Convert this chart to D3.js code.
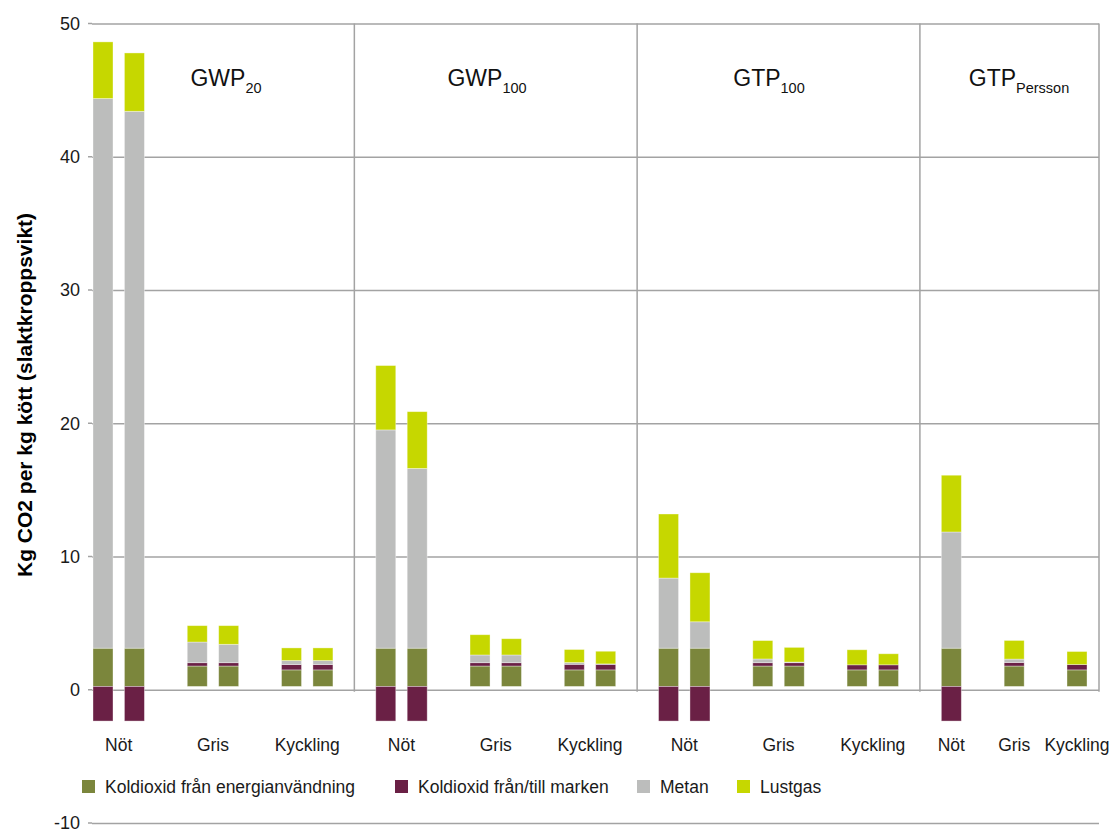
<!DOCTYPE html>
<html>
<head>
<meta charset="utf-8">
<script src="https://cdn.jsdelivr.net/npm/d3@7"></script>
<style>
  html, body { margin: 0; padding: 0; background: #fff; }
  svg { display: block; font-family: "Liberation Sans", Arial, Helvetica, sans-serif; }
</style>
</head>
<body>
<svg id="chart" width="1118" height="834"></svg>
<script>
// ---------- data ----------
const panelMain = ["GWP", "GWP", "GTP", "GTP"];
const panelSub  = ["20", "100", "100", "Persson"];
const animals   = ["Nöt", "Gris", "Kyckling"];
const seriesNames = ["Koldioxid från energianvändning", "Koldioxid från/till marken", "Metan", "Lustgas"];
const seriesColors = ["#7b863c", "#6a2045", "#bcbdbc", "#c6d700"];

// one entry per bar
const barPanel  = [0,0,0,0,0,0, 1,1,1,1,1,1, 2,2,2,2,2,2, 3,3,3];
const barAnimal = [0,0,1,1,2,2, 0,0,1,1,2,2, 0,0,1,1,2,2, 0,1,2];
const energi  = [2.87,2.87,1.53,1.53,1.24,1.24, 2.87,2.87,1.53,1.53,1.24,1.24, 2.87,2.87,1.53,1.53,1.24,1.24, 2.87,1.53,1.24];
const marken  = [-2.6,-2.6,0.25,0.25,0.40,0.40, -2.6,-2.6,0.25,0.25,0.42,0.42, -2.6,-2.6,0.25,0.25,0.38,0.38, -2.6,0.27,0.40];
const metan   = [41.25,40.29,1.55,1.38,0.30,0.30, 16.38,13.49,0.58,0.58,0.13,0.03, 5.26,1.98,0.28,0.05,0.0,0.0, 8.72,0.25,0.0];
const lustgas = [4.25,4.38,1.23,1.40,0.95,0.95, 4.83,4.26,1.52,1.22,0.98,0.95, 4.81,3.68,1.38,1.10,1.13,0.83, 4.26,1.40,0.98];
const baseline = 0.25;   // bars stand slightly above the 0 gridline in the original
const yTicks = [-10, 0, 10, 20, 30, 40, 50];
const yTitle = "Kg CO2 per kg kött (slaktkroppsvikt)";

// ---------- layout ----------
const svg = d3.select("#chart");
const left = 92, right = 1099;

// slot assignment: each animal gets its bars + one gap slot
const slots = [];
let panelStart = [];
{
  let start = 0;
  for (let p = 0; p < panelMain.length; p++) {
    panelStart.push(start);
    const perAnimal = barPanel.filter((d, i) => d === p && barAnimal[i] === 0).length;
    start += animals.length * (perAnimal + 1);
  }
  const counter = {};
  barPanel.forEach((p, i) => {
    const a = barAnimal[i];
    const perAnimal = barPanel.filter((d, j) => d === p && barAnimal[j] === a).length;
    const key = p + "_" + a;
    const k = counter[key] || 0; counter[key] = k + 1;
    slots.push(panelStart[p] + a * (perAnimal + 1) + k);
  });
}

const x = d3.scaleLinear().domain([-0.35, 31.7]).range([left, right]);
const y = d3.scaleLinear().domain([-10, 50]).range([823, 23.5]);
const barW = 20;

// gridlines + tick labels
const yAxis = d3.axisLeft(y).tickValues(yTicks).tickSizeInner(-(right - left)).tickSizeOuter(0).tickPadding(12)
  .tickFormat(d => String(d));
const gAxis = svg.append("g").attr("transform", `translate(${left},0)`).call(yAxis);
gAxis.select(".domain").remove();
gAxis.selectAll(".tick line").attr("stroke", "#a3a3a3").attr("stroke-width", 1.5);
gAxis.selectAll(".tick text").attr("fill", "#1a1a1a").style("font-size", "18px")
  .style("font-family", "'Liberation Sans', Arial, sans-serif");
// small outside ticks
svg.append("g").selectAll("line").data(yTicks).join("line")
  .attr("x1", left - 4).attr("x2", left).attr("y1", d => y(d)).attr("y2", d => y(d))
  .attr("stroke", "#a3a3a3").attr("stroke-width", 1.5);

// panel separators (in the gap slot after each panel) and right border
const sepSlots = panelStart.slice(1).map(s => s - 1);
svg.append("g").selectAll("line").data(sepSlots).join("line")
  .attr("x1", d => x(d)).attr("x2", d => x(d))
  .attr("y1", y(50)).attr("y2", y(0) + 2)
  .attr("stroke", "#a3a3a3").attr("stroke-width", 1.5);
svg.append("line").attr("x1", right).attr("x2", right).attr("y1", y(50)).attr("y2", y(0) + 2)
  .attr("stroke", "#a3a3a3").attr("stroke-width", 1.5);

// bars
const series = [energi, marken, metan, lustgas];
const segs = [];
barPanel.forEach((p, i) => {
  let pos = baseline, neg = baseline;
  series.forEach((s, si) => {
    const v = s[i];
    if (v >= 0) { segs.push({ i, si, y0: pos, y1: pos + v }); pos += v; }
    else { segs.push({ i, si, y0: neg + v, y1: neg }); neg += v; }
  });
});
svg.append("g").selectAll("rect").data(segs.filter(d => d.y1 - d.y0 > 0)).join("rect")
  .attr("x", d => x(slots[d.i]) - barW / 2)
  .attr("width", barW)
  .attr("y", d => y(d.y1))
  .attr("height", d => y(d.y0) - y(d.y1))
  .attr("fill", d => seriesColors[d.si])
  .attr("stroke", "rgba(255,255,255,0.45)").attr("stroke-width", 0.8);

// category labels
const labelData = [];
panelMain.forEach((pm, p) => {
  animals.forEach((a, ai) => {
    const s = slots.filter((sl, i) => barPanel[i] === p && barAnimal[i] === ai);
    if (s.length) labelData.push({ text: a, cx: d3.mean(s.map(v => x(v))) });
  });
});
svg.append("g").selectAll("text").data(labelData).join("text")
  .attr("x", d => d.cx).attr("y", 751)
  .attr("text-anchor", "middle").attr("fill", "#1a1a1a").style("font-size", "17.5px")
  .text(d => d.text);

// panel titles
const titleX = [226, 487, 769, 1019];
panelMain.forEach((pm, p) => {
  const t = svg.append("text").attr("x", titleX[p]).attr("y", 86)
    .attr("text-anchor", "middle").attr("fill", "#111").style("font-size", "23px");
  t.append("tspan").text(pm);
  t.append("tspan").attr("dy", 7).style("font-size", "14.5px").text(panelSub[p]);
});

// y axis title
svg.append("text")
  .attr("transform", `translate(32, 395) rotate(-90)`)
  .attr("text-anchor", "middle").attr("fill", "#000")
  .style("font-size", "21px").style("font-weight", "bold")
  .text(yTitle);

// legend
const legendX = [82, 395, 637, 737];
const lg = svg.append("g").selectAll("g").data(seriesNames).join("g")
  .attr("transform", (d, i) => `translate(${legendX[i]}, 787)`);
lg.append("rect").attr("x", 0).attr("y", -7).attr("width", 13).attr("height", 13)
  .attr("fill", (d, i) => seriesColors[i]);
lg.append("text").attr("x", 23).attr("y", 6).attr("fill", "#1a1a1a").style("font-size", "17.5px").text(d => d);
</script>
</body>
</html>
